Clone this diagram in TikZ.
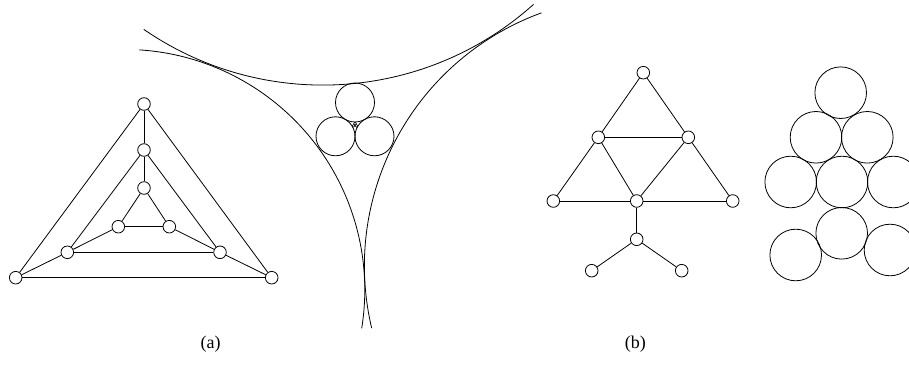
\documentclass[tikz,border=0pt]{standalone}
\usepackage{fontspec}
\setmainfont{Liberation Serif}
\begin{document}
\begin{tikzpicture}[x=1pt,y=1pt,
  vtx/.style={circle,draw,fill=white,minimum size=12.6pt,inner sep=0pt,line width=0.8pt},
  edge/.style={line width=0.8pt},
  disk/.style={line width=0.8pt},
  tiny/.style={line width=0.5pt},
  lab/.style={font=\fontsize{18}{20}\selectfont,inner sep=0pt}]
\useasboundingbox (0,0) rectangle (909,-366);
\clip (0,0) rectangle (909,-366);

% ---------- (a) graph ----------
\node[vtx] (o1) at (144,-104) {};
\node[vtx] (m1) at (144,-150) {};
\node[vtx] (i1) at (144,-188) {};
\node[vtx] (i2) at (118.3,-226.7) {};
\node[vtx] (i3) at (169.3,-226.7) {};
\node[vtx] (m2) at (67.3,-252.3) {};
\node[vtx] (m3) at (220,-252.3) {};
\node[vtx] (o2) at (15.7,-277.7) {};
\node[vtx] (o3) at (271.7,-277.7) {};
\draw[edge] (o1) -- (o2);
\draw[edge] (o1) -- (o3);
\draw[edge] (o2) -- (o3);
\draw[edge] (o1) -- (m1);
\draw[edge] (m1) -- (i1);
\draw[edge] (m1) -- (m2);
\draw[edge] (m1) -- (m3);
\draw[edge] (m2) -- (m3);
\draw[edge] (i1) -- (i2);
\draw[edge] (i1) -- (i3);
\draw[edge] (i2) -- (i3);
\draw[edge] (i2) -- (m2);
\draw[edge] (i3) -- (m3);
\draw[edge] (m2) -- (o2);
\draw[edge] (m3) -- (o3);

% ---------- (a) circle packing ----------
\draw[disk] ([shift={(322.8,230.4)}]-124.58:315.5) arc[start angle=-124.58,end angle=-48.08,radius=315.5];
\draw[disk] ([shift={(124.3,-289.9)}]86.42:240.5) arc[start angle=86.42,end angle=-9.19,radius=240.5];
\draw[disk] ([shift={(633.9,-266)}]110.05:269.5) arc[start angle=110.05,end angle=193.33,radius=269.5];
\draw[disk] (355,-102.5) circle[radius=19.5];
\draw[disk] (335.5,-136.3) circle[radius=19.5];
\draw[disk] (374.5,-136.3) circle[radius=19.5];
\draw[tiny] (355,-123.4) circle[radius=1.4];
\draw[tiny] (353.59,-125.84) circle[radius=1.4];
\draw[tiny] (356.41,-125.84) circle[radius=1.4];

% ---------- (b) graph ----------
\node[vtx] (t) at (643.3,-72.7) {};
\node[vtx] (ml) at (598.3,-137.3) {};
\node[vtx] (mr) at (688.3,-137.3) {};
\node[vtx] (l) at (553.3,-201) {};
\node[vtx] (c) at (636.7,-201) {};
\node[vtx] (r) at (732.7,-201) {};
\node[vtx] (s) at (636.7,-239.3) {};
\node[vtx] (bl) at (591.7,-270.7) {};
\node[vtx] (br) at (681.7,-270.7) {};
\draw[edge] (t) -- (ml);
\draw[edge] (t) -- (mr);
\draw[edge] (ml) -- (mr);
\draw[edge] (ml) -- (l);
\draw[edge] (ml) -- (c);
\draw[edge] (mr) -- (c);
\draw[edge] (mr) -- (r);
\draw[edge] (l) -- (c);
\draw[edge] (c) -- (r);
\draw[edge] (c) -- (s);
\draw[edge] (s) -- (bl);
\draw[edge] (s) -- (br);

% ---------- (b) circle packing ----------
\draw[disk] (840.7,-92.7) circle[radius=25.8];
\draw[disk] (816,-137.3) circle[radius=25.8];
\draw[disk] (867.3,-137.3) circle[radius=25.8];
\draw[disk] (790.7,-182) circle[radius=25.8];
\draw[disk] (842,-182) circle[radius=25.8];
\draw[disk] (893.3,-182) circle[radius=25.8];
\draw[disk] (841.7,-233.3) circle[radius=25.8];
\draw[disk] (795.7,-255) circle[radius=25.8];
\draw[disk] (890,-250) circle[radius=25.8];

% ---------- labels ----------
\node[lab] (la) at (210.7,-344) {(a)};
\node[lab] (lb) at (635.3,-344) {(b)};
\end{tikzpicture}
\end{document}
